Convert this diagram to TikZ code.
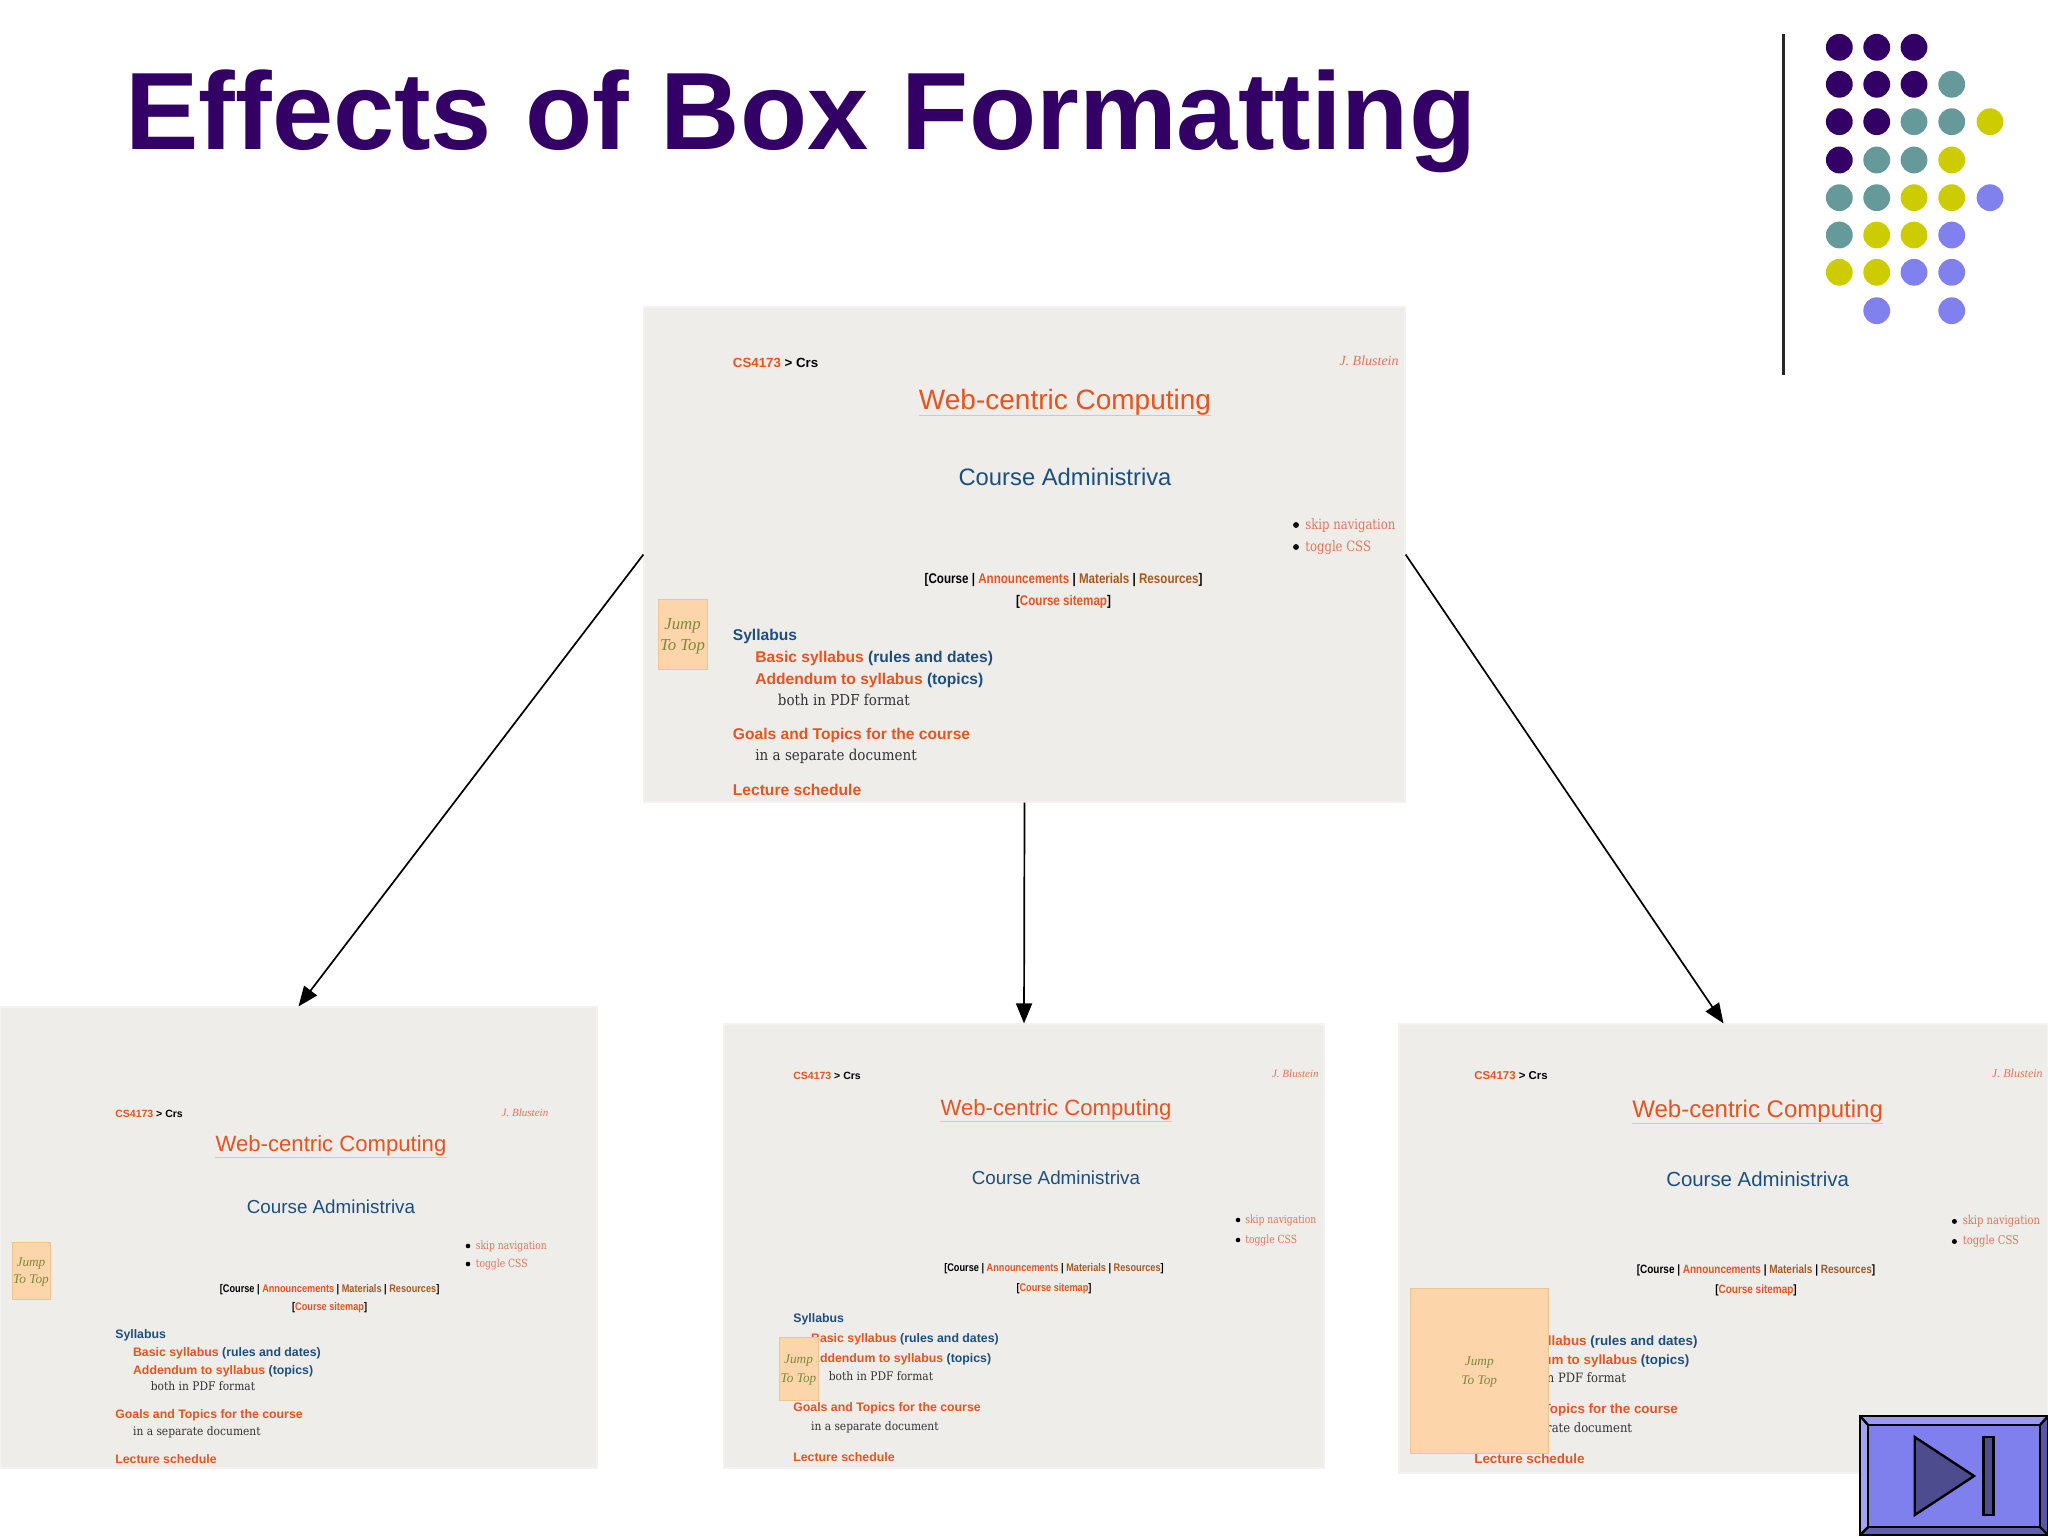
\documentclass[tikz,border=0pt]{standalone}
\usepackage{fontspec}
\setmainfont{Liberation Sans}
\newfontfamily\srf[FakeStretch=0.82]{DejaVu Serif}
\newfontfamily\srb[FakeStretch=0.9]{DejaVu Serif}
\newfontfamily\scr{Liberation Serif}[ItalicFont=* Italic]
\newfontfamily\cnd[FakeStretch=0.83]{Liberation Sans}
\definecolor{ttl}{HTML}{330066}
\definecolor{dotT}{HTML}{669999}
\definecolor{dotY}{HTML}{CCCC00}
\definecolor{dotB}{HTML}{8080EE}
\definecolor{paper}{HTML}{EFEDEA}
\definecolor{orng}{HTML}{E8531E}
\definecolor{blu}{HTML}{1B4F80}
\definecolor{brn}{HTML}{A8591F}
\definecolor{pale}{HTML}{E4745A}
\definecolor{jfill}{HTML}{FDD5AA}
\definecolor{jline}{HTML}{F0C490}
\definecolor{jtxt}{HTML}{7C8A3C}
\definecolor{dark}{HTML}{333333}
\definecolor{btnF}{HTML}{7F7FEE}
\definecolor{btnL}{HTML}{A3A3F3}
\definecolor{btnT}{HTML}{9999F0}
\definecolor{btnD}{HTML}{5F5FB3}
\definecolor{btnS}{HTML}{4C4C8F}
\tikzset{
  x=.5pt,y=-.5pt,
  dotn/.style={circle,minimum size=13.4pt,inner sep=0,draw=none},
  shotbg/.style={rectangle,fill=paper,inner sep=0,draw=paper!70,line width=.6pt},
  txt/.style={inner sep=0,anchor=base west},
  txtc/.style={inner sep=0,anchor=base},
  txte/.style={inner sep=0,anchor=base east},
  linkhead/.style={-{Triangle[length=10pt,width=8pt]},line width=.85pt,black},
  bullet/.style={circle,fill=black,minimum size=2.9pt,inner sep=0},
  jumpbox/.style={rectangle,fill=jfill,draw=jline,line width=.4pt,inner sep=0},
  btn/.style={draw=black,line width=1.2pt,line join=miter},
}
\usetikzlibrary{arrows.meta}
\newcommand\fH[1]{\fontsize{#1}{#1}\selectfont}
% one miniature web page: parameters are set with \def just before the call
\newcommand\shot[2]{%
  \node[shotbg,minimum width={(\xb-\xa)*.5pt},minimum height={(\yb-\ya)*.5pt}] (#1) at ({(\xa+\xb)/2},{(\ya+\yb)/2}) {};
  \tikzset{every node/.append style={scale=#2}}
  \pgfmathsetmacro\sL{\xL+22.5*#2}\pgfmathsetmacro\sLL{\xL+45*#2}
  \node[txt] (#1crumb) at (\xL,{\yCS+4.5*#2}) {\fH{6.65}\bfseries\textcolor{orng}{CS4173} \textcolor{black}{> Crs}};
  \node[txte] (#1auth) at (\xAu,{\yAu+4.5*#2}) {\fH{7}\scr\itshape\textcolor{pale}{J. Blustein}};
  \node[txtc] (#1web) at (\xC,{\yWeb+10*#2}) {\fH{14}\textcolor{orng}{Web-centric Computing}};
  \draw[orng!40,line width={.5pt*#2}] ([yshift={-3.4pt*#2}]#1web.base west) -- ([yshift={-3.4pt*#2}]#1web.base east);
  \node[txtc] (#1adm) at (\xC,{\yAdm+8.5*#2}) {\fH{11.9}\textcolor{blu}{Course Administriva}};
  \node[bullet] (#1b1) at (\xBu,\yBa) {};
  \node[bullet] (#1b2) at (\xBu,\yBb) {};
  \node[txt] (#1skip) at (\xBt,{\yBa+4*#2}) {\fH{7.1}\srf\textcolor{pale}{skip navigation}};
  \node[txt] (#1css) at (\xBt,{\yBb+4*#2}) {\fH{7.1}\srf\textcolor{pale}{toggle CSS}};
  \node[txtc] (#1nav) at (\xN,{\yN+4.5*#2}) {\fH{7}\cnd\bfseries\textcolor{black}{[Course |} \textcolor{orng}{Announcements} \textcolor{black}{|} \textcolor{brn}{Materials} \textcolor{black}{|} \textcolor{brn}{Resources}\textcolor{black}{]}};
  \node[txtc] (#1map) at (\xN,{\yMap+4.5*#2}) {\fH{7}\cnd\bfseries\textcolor{black}{[}\textcolor{orng}{Course sitemap}\textcolor{black}{]}};
  \node[txt] (#1syl) at (\xL,{\ySy+5.5*#2}) {\fH{7.8}\bfseries\textcolor{blu}{Syllabus}};
  \node[txt] (#1bas) at (\sL,{\yBas+5.5*#2}) {\fH{7.8}\bfseries\textcolor{orng}{Basic syllabus} \textcolor{blu}{(rules and dates)}};
  \node[txt] (#1add) at (\sL,{\yAdd+5.5*#2}) {\fH{7.8}\bfseries\textcolor{orng}{Addendum to syllabus} \textcolor{blu}{(topics)}};
  \node[txt] (#1both) at (\sLL,{\yBo+4*#2}) {\fH{7.5}\srb\textcolor{dark}{both in PDF format}};
  \node[txt] (#1goal) at (\xL,{\yGo+5.5*#2}) {\fH{7.8}\bfseries\textcolor{orng}{Goals and Topics for the course}};
  \node[txt] (#1sep) at (\sL,{\yIn+4*#2}) {\fH{7.5}\srb\textcolor{dark}{in a separate document}};
  \node[txt] (#1lec) at (\xL,{\yLe+5.5*#2}) {\fH{7.8}\bfseries\textcolor{orng}{Lecture schedule}};
  \tikzset{every node/.append style={scale=1}}
}
\newcommand\jump[8]{% name, x0,y0,x1,y1, scale, yJump, yTop
  \node[jumpbox,minimum width={(#4-#2)*.5pt},minimum height={(#5-#3)*.5pt}] (#1) at ({(#2+#4)/2},{(#3+#5)/2}) {};
  \node[txtc,scale=#6] (#1a) at ({(#2+#4)/2},{#7+5.5*#6}) {\fH{8.4}\scr\itshape\textcolor{jtxt}{Jump}};
  \node[txtc,scale=#6] (#1b) at ({(#2+#4)/2},{#8+5.5*#6}) {\fH{8.4}\scr\itshape\textcolor{jtxt}{To Top}};
}
\begin{document}
\begin{tikzpicture}
\useasboundingbox (0,0) rectangle (2048,1536);
\fill[white] (0,0) rectangle (2048,1536);

\node[inner sep=0,anchor=base west,text=ttl] (title) at (125,149) {\fontsize{55}{55}\selectfont\bfseries Effects\hspace{1.3pt} of\hspace{.65pt} Box\hspace{1.3pt} Formatting};

\draw[line width=1.25pt,black!85] (1783.3,34) coordinate (ruleA) -- (1783.3,375) coordinate (ruleB);

% dots
\foreach \cx/\cy/\cc [count=\i] in {
  1839.3/47.3/ttl,1876.7/47.3/ttl,1914/47.3/ttl,
  1839.3/84.3/ttl,1876.7/84.3/ttl,1914/84.3/ttl,1951.7/84.3/dotT,
  1839.3/121.7/ttl,1876.7/121.7/ttl,1914/121.7/dotT,1951.7/121.7/dotT,1990/121.7/dotY,
  1839.3/160/ttl,1876.7/160/dotT,1914/160/dotT,1951.7/160/dotY,
  1839.3/197.7/dotT,1876.7/197.7/dotT,1914/197.7/dotY,1951.7/197.7/dotY,1990/197.7/dotB,
  1839.3/235/dotT,1876.7/235/dotY,1914/235/dotY,1951.7/235/dotB,
  1839.3/272.3/dotY,1876.7/272.3/dotY,1914/272.3/dotB,1951.7/272.3/dotB,
  1876.7/310.7/dotB,1951.7/310.7/dotB}
  \node[dotn,fill=\cc] (dot\i) at (\cx,\cy) {};

% main page
\begin{scope}
\def\xa{644}\def\xb{1405}\def\ya{307}\def\yb{802}
\def\xL{732.5}\def\xC{1065}\def\xN{1063.5}\def\xAu{1399}\def\xBu{1296}\def\xBt{1305}
\def\yCS{363}\def\yAu{361}\def\yWeb{399}\def\yAdm{477}\def\yBa{525}\def\yBb{547}\def\yN{579}\def\yMap{601}
\def\ySy{635}\def\yBas{657}\def\yAdd{679}\def\yBo{701}\def\yGo{734}\def\yIn{756}\def\yLe{790}
\shot{Sa}{1}
\end{scope}
\jump{Ja}{658}{599}{707}{669}{1}{624}{645}

% left page
\begin{scope}
\def\xa{0}\def\xb{597}\def\ya{1007}\def\yb{1468}
\def\xL{115}\def\xC{331}\def\xN{329.6}\def\xAu{548.6}\def\xBu{468}\def\xBt{475.5}
\def\yCS{1114}\def\yAu{1113}\def\yWeb{1144}\def\yAdm{1207}\def\yBa{1246}\def\yBb{1264}\def\yN{1289}\def\yMap{1307}
\def\ySy{1334}\def\yBas{1352}\def\yAdd{1370}\def\yBo{1387}\def\yGo{1414}\def\yIn{1432}\def\yLe{1459}
\shot{Sb}{.79}
\end{scope}
\jump{Jb}{12}{1242}{50}{1299}{.79}{1262}{1279}
\draw[black!45,line width=.8pt] (Sb.north west) -- (Sb.south west);

% middle page
\begin{scope}
\def\xa{724}\def\xb{1324}\def\ya{1024}\def\yb{1468}
\def\xL{793}\def\xC{1056}\def\xN{1054}\def\xAu{1319}\def\xBu{1238}\def\xBt{1245}
\def\yCS{1076}\def\yAu{1074}\def\yWeb{1108}\def\yAdm{1178}\def\yBa{1220}\def\yBb{1240}\def\yN{1268}\def\yMap{1288}
\def\ySy{1318}\def\yBas{1338}\def\yAdd{1358}\def\yBo{1377}\def\yGo{1407}\def\yIn{1427}\def\yLe{1457}
\shot{Sc}{.79}
\end{scope}
\jump{Jc}{779}{1337}{818}{1400}{.79}{1359}{1378}

% right page
\begin{scope}
\def\xa{1399}\def\xb{2048}\def\ya{1024}\def\yb{1473}
\def\xL{1474}\def\xC{1757.6}\def\xN{1756}\def\xAu{2043}\def\xBu{1954.4}\def\xBt{1962.4}
\def\yCS{1076}\def\yAu{1074}\def\yWeb{1109}\def\yAdm{1179}\def\yBa{1221.4}\def\yBb{1241.5}\def\yN{1270}\def\yMap{1290}
\def\ySy{1320}\def\yBas{1340.5}\def\yAdd{1360}\def\yBo{1379.5}\def\yGo{1409}\def\yIn{1429.5}\def\yLe{1459}
\shot{Sd}{.858}
\end{scope}
\jump{Jd}{1410.5}{1288}{1548}{1453}{.79}{1361}{1380}
\draw[black!70,line width=.8pt] (Sd.north east) -- (Sd.south east);

% connectors
\draw[linkhead] (Sa.west) -- (Sb.north);
\draw[linkhead] (Sa.south) -- (Sc.north);
\draw[linkhead] (Sa.east) -- (Sd.north);

% action button
\coordinate (o1) at (1860,1416); \coordinate (o2) at (2048,1416);
\coordinate (o3) at (2048,1535); \coordinate (o4) at (1860,1535);
\coordinate (i1) at (1868,1425); \coordinate (i2) at (2040,1425);
\coordinate (i3) at (2040,1527); \coordinate (i4) at (1868,1527);
\fill[btnT] (o1) -- (o2) -- (i2) -- (i1) -- cycle;
\fill[btnL] (o1) -- (o4) -- (i4) -- (i1) -- cycle;
\fill[btnD] (o3) -- (o4) -- (i4) -- (i3) -- cycle;
\fill[btnS!80!btnF] (o2) -- (o3) -- (i3) -- (i2) -- cycle;
\fill[btnF] (i1) rectangle (i3);
\draw[btn] (o1) -- (o2) -- (o3) -- (o4) -- cycle;
\draw[btn] (i1) -- (i2) -- (i3) -- (i4) -- cycle;
\draw[btn] (o1) -- (i1) (o2) -- (i2) (o3) -- (i3) (o4) -- (i4);
\draw[btn,fill=btnS] (1914.7,1437) -- (1974,1476) -- (1914.7,1515) -- cycle;
\draw[btn,fill=btnS] (1983.3,1437) rectangle (1993.3,1515);
\end{tikzpicture}
\end{document}
